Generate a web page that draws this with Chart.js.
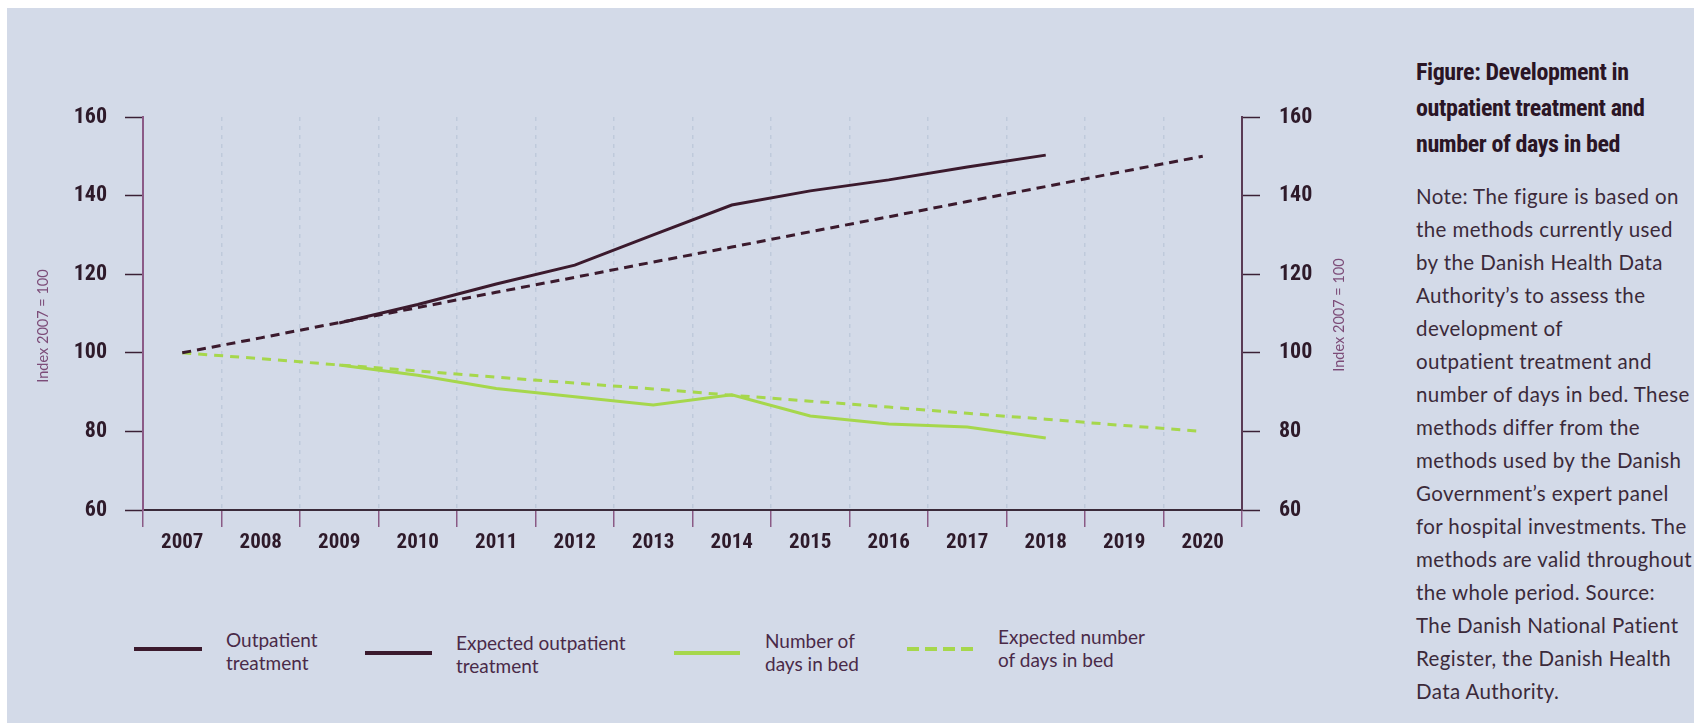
<!DOCTYPE html>
<html>
<head>
<meta charset="utf-8">
<script src="https://cdn.jsdelivr.net/npm/chart.js@4.4.1/dist/chart.umd.min.js"></script>
<style>
  html, body { margin: 0; padding: 0; width: 1694px; height: 723px; overflow: hidden; background: #fff; }
  #bg { position: absolute; left: 7px; top: 8px; right: 0; bottom: 0; background: #d3dae8; }
  #wrap { position: absolute; left: 0; top: 0; width: 1400px; height: 600px; }
  .leg-line { position: absolute; height: 4px; }
  .leg-text { position: absolute; font-family: Lato, sans-serif; font-size: 19px; line-height: 23px; color: #4a2a48; }
  #title { position: absolute; left: 1416px; top: 54px; font-family: 'Roboto Condensed', sans-serif; font-weight: bold; font-size: 24px; letter-spacing: -0.4px; line-height: 36px; color: #2a1525; white-space: nowrap; }
  #note { position: absolute; left: 1416px; top: 180px; font-family: Lato, sans-serif; font-size: 20.5px; letter-spacing: 0.4px; line-height: 33px; color: #3b2a3a; white-space: nowrap; }
</style>
</head>
<body>
<div id="bg"></div>
<div id="wrap"><canvas id="myChart" width="1400" height="600"></canvas></div>

<div class="leg-line" style="left:134px;top:647px;width:68px;background:#3b1a2d"></div>
<div class="leg-text" style="left:226px;top:628px">Outpatient<br>treatment</div>
<div class="leg-line" style="left:365px;top:651px;width:67px;background:#3b1a2d"></div>
<div class="leg-text" style="left:456px;top:631px">Expected outpatient<br>treatment</div>
<div class="leg-line" style="left:674px;top:651px;width:66px;background:#a6d74c"></div>
<div class="leg-text" style="left:765px;top:629px">Number of<br>days in bed</div>
<div class="leg-line" style="left:907px;top:647px;width:67px;background:repeating-linear-gradient(90deg,#a6d74c 0 12px,transparent 12px 18px)"></div>
<div class="leg-text" style="left:998px;top:625px">Expected number<br>of days in bed</div>

<div id="title">Figure: Development in<br>outpatient treatment and<br>number of days in bed</div>
<div id="note">Note: The figure is based on<br>the methods currently used<br>by the Danish Health Data<br>Authority’s to assess the<br>development of<br>outpatient treatment and<br>number of days in bed. These<br>methods differ from the<br>methods used by the Danish<br>Government’s expert panel<br>for hospital investments. The<br>methods are valid throughout<br>the whole period. Source:<br>The Danish National Patient<br>Register, the Danish Health<br>Data Authority.</div>

<script>
var years = ['2007', '2008', '2009', '2010', '2011', '2012', '2013', '2014', '2015', '2016', '2017', '2018', '2019', '2020'];
var outpatient = [null, null, 107.6, 112.3, 117.5, 122.3, 130, 137.6, 141.2, 144, 147.3, 150.3, null, null];
var expectedOutpatient = [100, 103.8, 107.7, 111.5, 115.4, 119.2, 123.1, 126.9, 130.8, 134.6, 138.5, 142.3, 146.2, 150];
var daysInBed = [null, null, 96.9, 94.3, 90.9, 88.8, 86.7, 89.3, 83.9, 81.9, 81.1, 78.3, null, null];
var expectedDays = [100, 98.5, 96.9, 95.4, 93.8, 92.3, 90.8, 89.2, 87.7, 86.2, 84.6, 83.1, 81.5, 80];
var yTicks = [60, 80, 100, 120, 140, 160];
var axisTitle = 'Index 2007 = 100';

var dark = '#3b1a2d';
var green = '#a6d74c';
var narrow = "'Roboto Condensed', sans-serif";

// rotated axis titles, both read bottom to top
var axisTitles = {
    id: 'axisTitles',
    afterDraw: function (chart) {
        var c = chart.ctx;
        var a = chart.chartArea;
        c.save();
        c.font = '14.5px Lato, sans-serif';
        c.fillStyle = '#7c4c78';
        c.textAlign = 'center';
        c.textBaseline = 'middle';
        [[a.left - 100, 326], [a.right + 97, 315]].forEach(function (p) {
            c.save();
            c.translate(p[0], p[1]);
            c.rotate(-Math.PI / 2);
            c.fillText(axisTitle, 0, 0);
            c.restore();
        });
        c.restore();
    }
};

function setTicks(scale) {
    scale.ticks = yTicks.map(function (v) { return { value: v }; });
}

var ctx = document.getElementById('myChart').getContext('2d');
var myChart = new Chart(ctx, {
    type: 'line',
    data: {
        labels: years,
        datasets: [{
            label: 'Outpatient treatment',
            data: outpatient,
            borderColor: dark,
            borderWidth: 3
        }, {
            label: 'Expected outpatient treatment',
            data: expectedOutpatient,
            borderColor: dark,
            borderWidth: 3,
            borderDash: [9, 6]
        }, {
            label: 'Number of days in bed',
            data: daysInBed,
            borderColor: green,
            borderWidth: 3
        }, {
            label: 'Expected number of days in bed',
            data: expectedDays,
            borderColor: green,
            borderWidth: 3,
            borderDash: [9, 7]
        }]
    },
    options: {
        responsive: false,
        animation: false,
        devicePixelRatio: 1,
        elements: { point: { radius: 0 }, line: { tension: 0 } },
        layout: { padding: { top: 117, left: 0, right: 0, bottom: 0 } },
        plugins: { legend: { display: false }, tooltip: { enabled: false } },
        scales: {
            x: {
                offset: true,
                grid: {
                    offset: true,
                    color: '#bfcadb',
                    lineWidth: 1.5,
                    tickLength: 17,
                    tickColor: '#8a5a85',
                    tickWidth: 1.5,
                    tickBorderDash: []
                },
                border: { color: '#3a2a3a', width: 2, dash: [4, 5] },
                ticks: {
                    color: '#2e1a2a',
                    padding: 3,
                    maxRotation: 0,
                    font: { family: narrow, weight: 'bold', size: 21 }
                },
                afterFit: function (s) { s.height = 90; }
            },
            y: {
                position: 'left',
                min: 60,
                max: 160,
                afterBuildTicks: setTicks,
                grid: { drawOnChartArea: false, tickLength: 18, tickColor: '#3a2035', tickWidth: 1.5 },
                border: { color: '#8b5a87', width: 2 },
                ticks: {
                    color: '#2e1a2a',
                    padding: 18,
                    font: { family: narrow, weight: 'bold', size: 22 }
                },
                afterFit: function (s) { s.width = 143; }
            },
            y2: {
                position: 'right',
                min: 60,
                max: 160,
                afterBuildTicks: setTicks,
                grid: { drawOnChartArea: false, tickLength: 18, tickColor: '#3a2035', tickWidth: 1.5 },
                border: { color: '#5a3a55', width: 2 },
                ticks: {
                    color: '#2e1a2a',
                    padding: 19,
                    font: { family: narrow, weight: 'bold', size: 22 }
                },
                afterFit: function (s) { s.width = 158; }
            }
        }
    },
    plugins: [axisTitles]
});
</script>
</body>
</html>
